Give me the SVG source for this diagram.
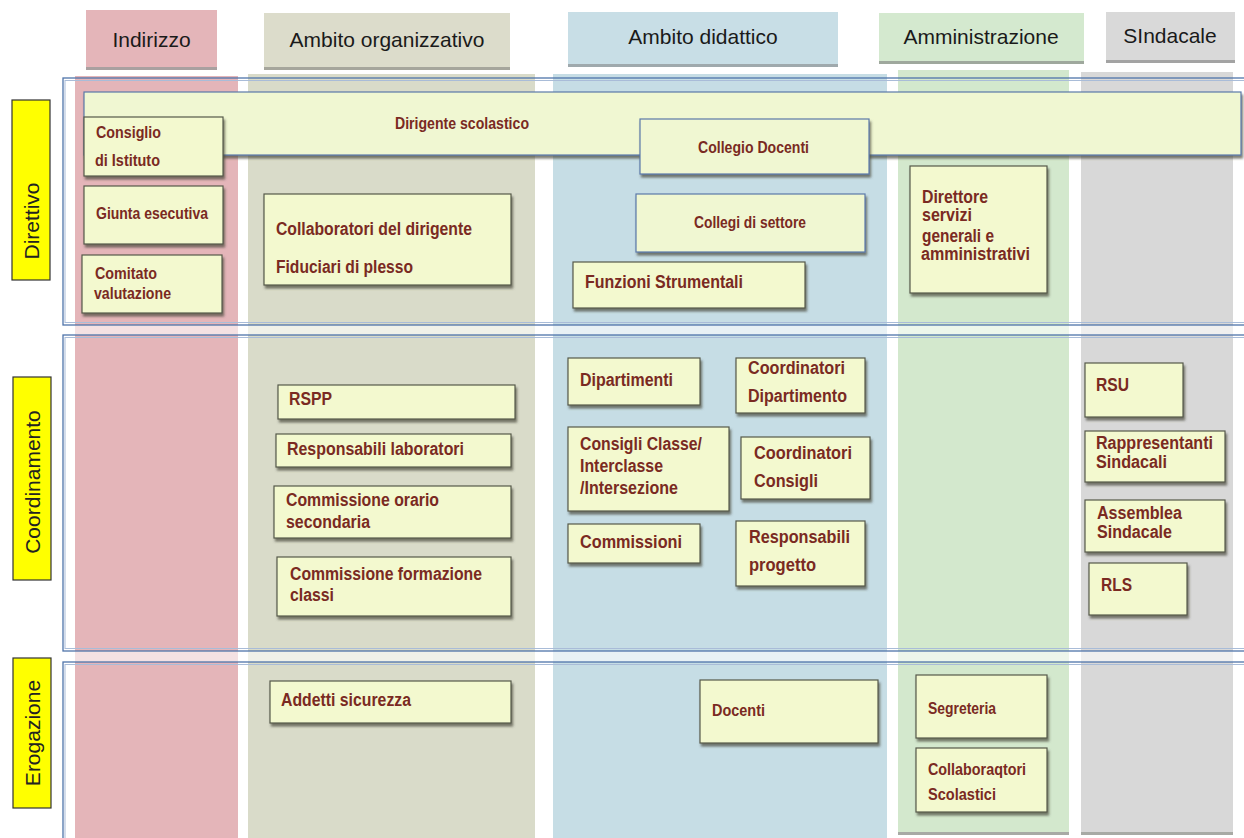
<svg xmlns="http://www.w3.org/2000/svg" width="1244" height="838" viewBox="0 0 1244 838">
<defs>
<filter id="sh" x="-10%" y="-10%" width="130%" height="140%">
<feDropShadow dx="1.5" dy="3" stdDeviation="1.2" flood-color="#4a4a3a" flood-opacity="0.7"/>
</filter>
</defs>
<style>
.hdr{font-family:"Liberation Sans",Arial,sans-serif;font-size:21px;fill:#1a1a1a;text-anchor:middle}
.lab{font-family:"Liberation Sans",Arial,sans-serif;font-size:21px;fill:#222;text-anchor:middle}
.nd{fill:#f3f9cf;stroke:#55594a;stroke-width:1.2;filter:url(#sh)}
.ndb{fill:#f0f7d2;stroke:#5a78a8;stroke-width:1.2;filter:url(#sh)}
.t{font-family:"Liberation Sans Narrow","Liberation Sans",Arial,sans-serif;font-weight:bold;font-size:17px;fill:#7a2a22}
.tc{text-anchor:middle}
.row{fill:none;stroke:#4f74aa;stroke-width:1.3}
.row2{fill:none;stroke:#a9bcd8;stroke-width:1}
</style>
<rect width="1244" height="838" fill="#ffffff"/>
<g id="columns">
<rect x="75" y="76" width="163" height="762" fill="#e4b5b9"/>
<rect x="248" y="74" width="287" height="764" fill="#d9dbc9"/>
<rect x="553" y="74" width="334" height="764" fill="#c6dde5"/>
<rect x="898" y="70" width="171" height="763" fill="#d3e8cd"/>
<rect x="1081" y="72" width="152" height="761" fill="#d8d8d8"/>
<rect x="898" y="832" width="171" height="3" fill="#a8aaa5"/>
<rect x="1081" y="832" width="152" height="3" fill="#a8aaa5"/>
</g>
<g id="headers">
<g id="h-indirizzo"><rect x="86" y="12" width="131" height="58" fill="#a9a0a0"/><rect x="86" y="10" width="131" height="57" fill="#e4b5b9"/><text class="hdr" x="151.5" y="47">Indirizzo</text></g>
<g id="h-organizzativo"><rect x="264" y="15" width="246" height="55" fill="#a6a69c"/><rect x="264" y="13" width="246" height="54" fill="#dcdccb"/><text class="hdr" x="387" y="47">Ambito organizzativo</text></g>
<g id="h-didattico"><rect x="568" y="14" width="270" height="53" fill="#9fa9ad"/><rect x="568" y="12" width="270" height="52" fill="#c8dee6"/><text class="hdr" x="703" y="44">Ambito didattico</text></g>
<g id="h-amministrazione"><rect x="879" y="15" width="205" height="49" fill="#9fa89d"/><rect x="879" y="13" width="205" height="48" fill="#d4e9cf"/><text class="hdr" x="981" y="44">Amministrazione</text></g>
<g id="h-sindacale"><rect x="1106" y="14" width="129" height="49" fill="#a3a3a3"/><rect x="1106" y="12" width="129" height="48" fill="#d9d9d9"/><text class="hdr" x="1170" y="43">SIndacale</text></g>
</g>
<g id="rows">
<rect x="63" y="325" width="1181" height="10" fill="#ffffff" opacity="0.6"/>
<rect x="63" y="651" width="1181" height="11" fill="#ffffff" opacity="0.6"/>
<rect x="63" y="78" width="12" height="247" fill="#ffffff"/>
<rect x="63" y="335" width="12" height="316" fill="#ffffff"/>
<rect x="63" y="662" width="12" height="176" fill="#ffffff"/>
<rect class="row" x="63" y="78" width="1190" height="247"/>
<rect class="row2" x="65" y="80.5" width="1190" height="242"/>
<rect class="row" x="63" y="335" width="1190" height="316"/>
<rect class="row2" x="65" y="337.5" width="1190" height="311"/>
<rect class="row" x="63" y="662" width="1190" height="190"/>
<rect class="row2" x="65" y="664.5" width="1190" height="190"/>
</g>
<g id="row-labels">
<g id="l-direttivo"><rect x="12" y="100" width="38" height="180" fill="#ffff00" stroke="#333" stroke-width="1.2"/><text class="lab" transform="translate(39,221) rotate(-90)">Direttivo</text></g>
<g id="l-coordinamento"><rect x="13" y="377" width="38" height="203" fill="#ffff00" stroke="#333" stroke-width="1.2"/><text class="lab" transform="translate(40,482) rotate(-90)">Coordinamento</text></g>
<g id="l-erogazione"><rect x="13" y="658" width="38" height="150" fill="#ffff00" stroke="#333" stroke-width="1.2"/><text class="lab" transform="translate(40,733) rotate(-90)">Erogazione</text></g>
</g>
<g id="connectors"></g>
<g id="n-dirigente"><rect class="ndb" x="84" y="92" width="1157" height="63"/><text class="t" x="395" y="129" textLength="134" lengthAdjust="spacingAndGlyphs">Dirigente scolastico</text></g>
<g id="n-consiglio"><rect class="nd" x="84" y="117" width="139" height="59"/><text class="t" x="96" y="138" textLength="65" lengthAdjust="spacingAndGlyphs">Consiglio</text><text class="t" x="95" y="166" textLength="65" lengthAdjust="spacingAndGlyphs">di Istituto</text></g>
<g id="n-giunta"><rect class="nd" x="84" y="186" width="139" height="58"/><text class="t" x="96" y="219" textLength="112" lengthAdjust="spacingAndGlyphs">Giunta esecutiva</text></g>
<g id="n-comitato"><rect class="nd" x="82" y="255" width="140" height="58"/><text class="t" x="95" y="279" textLength="62" lengthAdjust="spacingAndGlyphs">Comitato</text><text class="t" x="94" y="299" textLength="77" lengthAdjust="spacingAndGlyphs">valutazione</text></g>
<g id="n-collaboratori"><rect class="nd" x="264" y="194" width="247" height="91"/><text class="t" x="276" y="235" style="font-size:18px" textLength="196" lengthAdjust="spacingAndGlyphs">Collaboratori del dirigente</text><text class="t" x="276" y="273" style="font-size:18px" textLength="137" lengthAdjust="spacingAndGlyphs">Fiduciari di plesso</text></g>
<g id="n-funzioni"><rect class="nd" x="573" y="262" width="232" height="46"/><text class="t" x="585" y="288" style="font-size:18px" textLength="158" lengthAdjust="spacingAndGlyphs">Funzioni Strumentali</text></g>
<g id="n-collegio"><rect class="ndb" x="640" y="119" width="229" height="55"/><text class="t" x="698" y="153" textLength="111" lengthAdjust="spacingAndGlyphs">Collegio Docenti</text></g>
<g id="n-collegi-settore"><rect class="ndb" x="636" y="194" width="229" height="58"/><text class="t" x="694" y="228" textLength="112" lengthAdjust="spacingAndGlyphs">Collegi di settore</text></g>
<g id="n-dsga"><rect class="nd" x="910" y="166" width="137" height="127"/><text class="t" x="922" y="203" style="font-size:18px" textLength="66" lengthAdjust="spacingAndGlyphs">Direttore</text><text class="t" x="922" y="221" style="font-size:18px" textLength="50" lengthAdjust="spacingAndGlyphs">servizi</text><text class="t" x="922" y="242" style="font-size:18px" textLength="72" lengthAdjust="spacingAndGlyphs">generali e</text><text class="t" x="921" y="260" style="font-size:18px" textLength="109" lengthAdjust="spacingAndGlyphs">amministrativi</text></g>
<g id="n-rspp"><rect class="nd" x="278" y="385" width="237" height="34"/><text class="t" x="289" y="405" style="font-size:18px" textLength="43" lengthAdjust="spacingAndGlyphs">RSPP</text></g>
<g id="n-resp-lab"><rect class="nd" x="276" y="434" width="235" height="33"/><text class="t" x="287" y="455" style="font-size:18px" textLength="177" lengthAdjust="spacingAndGlyphs">Responsabili laboratori</text></g>
<g id="n-comm-orario"><rect class="nd" x="274" y="486" width="237" height="52"/><text class="t" x="286" y="506" style="font-size:18px" textLength="153" lengthAdjust="spacingAndGlyphs">Commissione orario</text><text class="t" x="286" y="528" style="font-size:18px" textLength="84" lengthAdjust="spacingAndGlyphs">secondaria</text></g>
<g id="n-comm-formazione"><rect class="nd" x="277" y="557" width="234" height="59"/><text class="t" x="290" y="580" style="font-size:18px" textLength="192" lengthAdjust="spacingAndGlyphs">Commissione formazione</text><text class="t" x="290" y="601" style="font-size:18px" textLength="44" lengthAdjust="spacingAndGlyphs">classi</text></g>
<g id="n-dipartimenti"><rect class="nd" x="568" y="358" width="132" height="47"/><text class="t" x="580" y="386" style="font-size:18px" textLength="93" lengthAdjust="spacingAndGlyphs">Dipartimenti</text></g>
<g id="n-consigli-classe"><rect class="nd" x="568" y="427" width="161" height="84"/><text class="t" x="580" y="450" style="font-size:18px" textLength="122" lengthAdjust="spacingAndGlyphs">Consigli Classe/</text><text class="t" x="580" y="472" style="font-size:18px" textLength="83" lengthAdjust="spacingAndGlyphs">Interclasse</text><text class="t" x="580" y="494" style="font-size:18px" textLength="98" lengthAdjust="spacingAndGlyphs">/Intersezione</text></g>
<g id="n-commissioni"><rect class="nd" x="568" y="524" width="132" height="39"/><text class="t" x="580" y="548" style="font-size:18px" textLength="102" lengthAdjust="spacingAndGlyphs">Commissioni</text></g>
<g id="n-coord-dip"><rect class="nd" x="736" y="358" width="129" height="55"/><text class="t" x="748" y="374" style="font-size:18px" textLength="97" lengthAdjust="spacingAndGlyphs">Coordinatori</text><text class="t" x="748" y="402" style="font-size:18px" textLength="99" lengthAdjust="spacingAndGlyphs">Dipartimento</text></g>
<g id="n-coord-cons"><rect class="nd" x="741" y="437" width="129" height="62"/><text class="t" x="754" y="459" style="font-size:18px" textLength="98" lengthAdjust="spacingAndGlyphs">Coordinatori</text><text class="t" x="754" y="487" style="font-size:18px" textLength="64" lengthAdjust="spacingAndGlyphs">Consigli</text></g>
<g id="n-resp-prog"><rect class="nd" x="736" y="521" width="129" height="65"/><text class="t" x="749" y="543" style="font-size:18px" textLength="101" lengthAdjust="spacingAndGlyphs">Responsabili</text><text class="t" x="749" y="571" style="font-size:18px" textLength="67" lengthAdjust="spacingAndGlyphs">progetto</text></g>
<g id="n-rsu"><rect class="nd" x="1085" y="363" width="98" height="54"/><text class="t" x="1096" y="391" style="font-size:18px" textLength="33" lengthAdjust="spacingAndGlyphs">RSU</text></g>
<g id="n-rappresentanti"><rect class="nd" x="1085" y="431" width="140" height="51"/><text class="t" x="1096" y="449" style="font-size:18px" textLength="117" lengthAdjust="spacingAndGlyphs">Rappresentanti</text><text class="t" x="1096" y="468" style="font-size:18px" textLength="71" lengthAdjust="spacingAndGlyphs">Sindacali</text></g>
<g id="n-assemblea"><rect class="nd" x="1085" y="500" width="140" height="52"/><text class="t" x="1097" y="519" style="font-size:18px" textLength="85" lengthAdjust="spacingAndGlyphs">Assemblea</text><text class="t" x="1097" y="538" style="font-size:18px" textLength="75" lengthAdjust="spacingAndGlyphs">Sindacale</text></g>
<g id="n-rls"><rect class="nd" x="1089" y="563" width="98" height="52"/><text class="t" x="1101" y="591" style="font-size:18px" textLength="31" lengthAdjust="spacingAndGlyphs">RLS</text></g>
<g id="n-addetti"><rect class="nd" x="270" y="681" width="241" height="42"/><text class="t" x="281" y="706" style="font-size:18px" textLength="130" lengthAdjust="spacingAndGlyphs">Addetti sicurezza</text></g>
<g id="n-docenti"><rect class="nd" x="700" y="680" width="178" height="63"/><text class="t" x="712" y="716" textLength="53" lengthAdjust="spacingAndGlyphs">Docenti</text></g>
<g id="n-segreteria"><rect class="nd" x="916" y="675" width="131" height="63"/><text class="t" x="928" y="714" textLength="68" lengthAdjust="spacingAndGlyphs">Segreteria</text></g>
<g id="n-collab-scol"><rect class="nd" x="916" y="748" width="131" height="64"/><text class="t" x="928" y="775" textLength="98" lengthAdjust="spacingAndGlyphs">Collaboraqtori</text><text class="t" x="928" y="800" textLength="68" lengthAdjust="spacingAndGlyphs">Scolastici</text></g>
</svg>
